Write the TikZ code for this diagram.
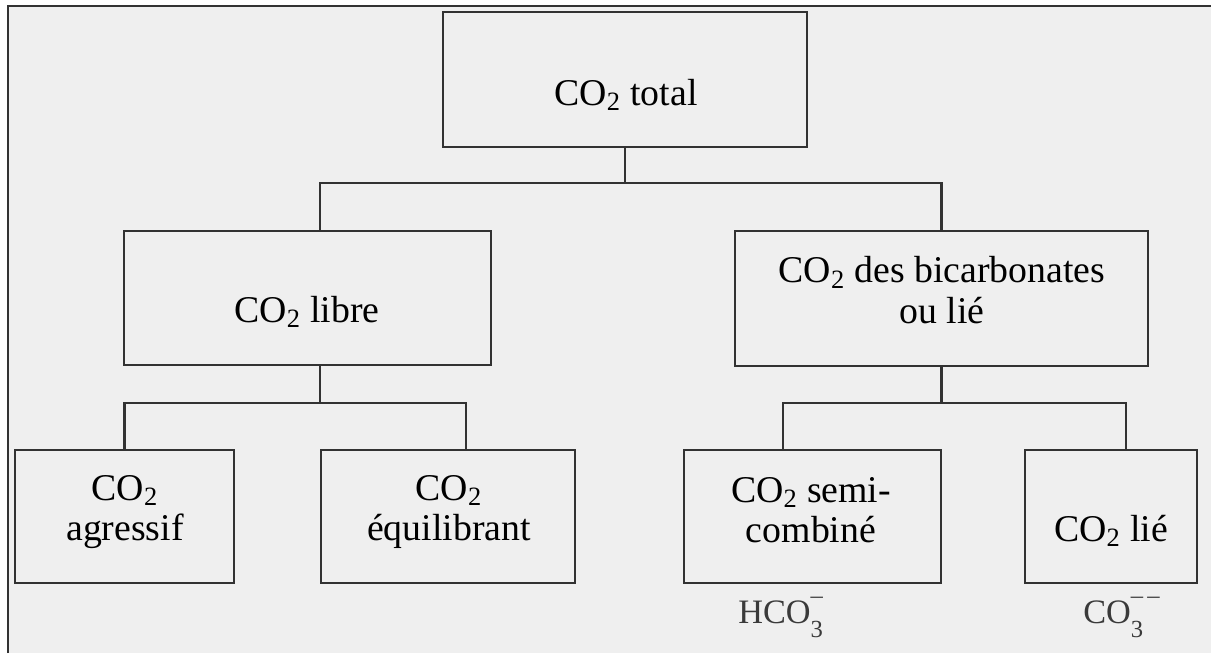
\documentclass[tikz,border=0pt]{standalone}
\usepackage{fontspec}
\setmainfont{Liberation Serif}
\definecolor{paper}{HTML}{EFEFEF}
\definecolor{edge}{HTML}{323232}
\definecolor{ion}{HTML}{3A3A3A}
\newcommand{\ionsub}[2]{\makebox[0pt][l]{\raisebox{0.58em}{\fontsize{14}{14}\selectfont #2}}\raisebox{-0.42em}{\fontsize{14}{14}\selectfont #1}}
\begin{document}
\begin{tikzpicture}[x=0.2mm, y=-0.2mm,
  box/.style 2 args={draw=edge, line width=1.4pt, inner sep=0pt,
    minimum width=#1*0.2mm, minimum height=#2*0.2mm},
  txt/.style={font=\fontsize{21.5}{23}\selectfont, align=center, inner sep=0pt},
  ionlab/.style={font=\fontsize{19.5}{21}\selectfont, text=ion, inner sep=0pt},
  link/.style={draw=edge, line width=1.4pt}
]
\useasboundingbox (0,0) rectangle (1211,653);
\fill[paper] (8,6) rectangle (1211,653);
\draw[edge, line width=1.2pt] (8,653) -- (8,6) -- (1211,6);

\node[box={364}{135}] (total) at (625,79.5) {};
\node[txt] (totaltxt) at (626,95) {CO\textsubscript{2} total};

\node[box={367}{134}] (libre) at (307.5,298) {};
\node[txt] (libretxt) at (307,312) {CO\textsubscript{2} libre};
\node[box={413}{135}] (bicarb) at (941.5,298.5) {};
\node[txt] (bicarbtxt) at (942,290) {CO\textsubscript{2} des bicarbonates\\ou lié};

\node[box={219}{133}] (agressif) at (124.5,516.5) {};
\node[txt] (agressiftxt) at (125,512) {CO\textsubscript{2}\\agressif};
\node[box={254}{133}] (equil) at (448,516.5) {};
\node[txt] (equiltxt) at (449,512) {CO\textsubscript{2}\\équilibrant};
\node[box={257}{133}] (semi) at (812.5,516.5) {};
\node[txt] (semitxt) at (811,510) {CO\textsubscript{2} semi-\\combiné};
\node[box={172}{133}] (lie) at (1111,516.5) {};
\node[txt] (lietxt) at (1111,531) {CO\textsubscript{2} lié};

\node[ionlab, anchor=base west] (hco) at (738,623) {HCO\ionsub{3}{–}};
\node[ionlab, anchor=base west] (co) at (1083,623) {CO\ionsub{3}{–\,–}};

\coordinate (tl) at (320,183);
\coordinate (tr) at (941.5,183);
\coordinate (lm) at (320,403);
\coordinate (ll) at (124.5,403);
\coordinate (lr) at (466,403);
\coordinate (rl) at (783,403);
\coordinate (rr) at (1126,403);

\draw[link] (total.south) -- (total.south |- tl);
\draw[link] (libre.north -| tl) -- (tl) -- (tr) -- (bicarb.north);
\draw[link] (libre.south -| lm) -- (lm);
\draw[link] (agressif.north -| ll) -- (ll) -- (lr) -- (equil.north -| lr);
\draw[link] (bicarb.south) -- (bicarb.south |- rl);
\draw[link] (semi.north -| rl) -- (rl) -- (rr) -- (lie.north -| rr);
\end{tikzpicture}
\end{document}
